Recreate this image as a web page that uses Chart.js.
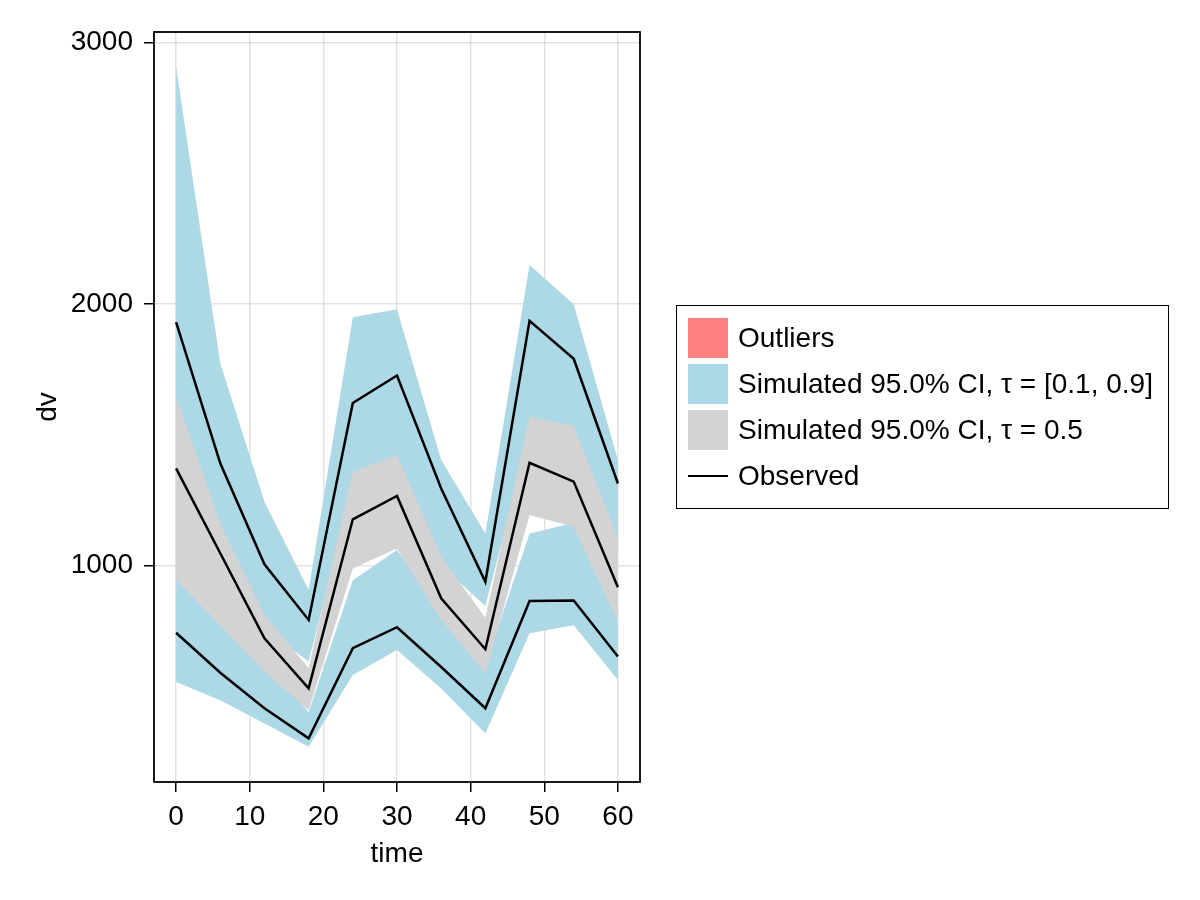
<!DOCTYPE html>
<html>
<head>
<meta charset="utf-8">
<script src="https://cdn.jsdelivr.net/npm/chart.js@4.4.0/dist/chart.umd.min.js"></script>
<style>
  body { margin: 0; background: #fff; font-family: "Liberation Sans", Arial, sans-serif; }
  #wrap { position: relative; width: 1200px; height: 900px; }
  #legend {
    position: absolute; left: 676px; top: 305px; width: 493px; height: 204px;
    border: 1.5px solid #000; box-sizing: border-box;
  }
  .item { position: absolute; left: 11px; height: 40px; width: 470px; }
  .swatch { position: absolute; left: 0; top: 0; width: 40px; height: 40px; }
  .swatch.line { height: 2px; top: 19px; background: #000; }
  .item span { position: absolute; left: 50px; top: 0; line-height: 40px; font-size: 28px; color: #000; white-space: nowrap; }
</style>
</head>
<body>
<div id="wrap">
  <canvas id="vpcChart" width="1200" height="900"></canvas>
  <div id="legend">
    <div class="item" style="top:12px"><div class="swatch" style="background:#ff8080"></div><span>Outliers</span></div>
    <div class="item" style="top:58px"><div class="swatch" style="background:#add8e6"></div><span>Simulated 95.0% CI, τ = [0.1, 0.9]</span></div>
    <div class="item" style="top:104px"><div class="swatch" style="background:#d3d3d3"></div><span>Simulated 95.0% CI, τ = 0.5</span></div>
    <div class="item" style="top:150px"><div class="swatch line"></div><span>Observed</span></div>
  </div>
</div>
<script>
// tiempos de muestreo
const times = [0, 6, 12, 18, 24, 30, 36, 42, 48, 54, 60];

// observados (cuantiles 0.9, 0.5, 0.1)
const observedHigh = [1931, 1391, 1005, 792, 1622, 1727, 1295, 938, 1936, 1791, 1314];
const observedMid = [1372, 1047, 722, 530, 1177, 1266, 875, 680, 1393, 1321, 917];
const observedLow = [743, 590, 454, 339, 684, 764, 612, 454, 864, 866, 652];

// bandas simuladas
const upperBandTop = [2908, 1774, 1244, 906, 1950, 1980, 1404, 1123, 2150, 2000, 1404];
const upperBandBottom = [1500, 1080, 760, 632, 1300, 1380, 1000, 845, 1500, 1480, 1050];
const midBandTop = [1646, 1161, 811, 607, 1359, 1423, 1034, 800, 1569, 1534, 1104];
const midBandBottom = [945, 772, 594, 447, 989, 1066, 792, 588, 1193, 1148, 785];
const lowBandTop = [1000, 820, 640, 440, 944, 1059, 830, 620, 1123, 1164, 830];
const lowBandBottom = [555, 485, 396, 307, 581, 677, 530, 358, 741, 772, 562];

const xTicks = [0, 10, 20, 30, 40, 50, 60];
const yTicks = [1000, 2000, 3000];

function pts(values) {
  return times.map((t, i) => ({ x: t, y: values[i] }));
}

function edge(values, order, fill, color) {
  return {
    data: pts(values),
    borderWidth: 0,
    pointRadius: 0,
    fill: fill,
    backgroundColor: color || 'transparent',
    order: order
  };
}

function observed(values) {
  return {
    label: 'Observed',
    data: pts(values),
    borderColor: '#000',
    borderWidth: 2.5,
    pointRadius: 0,
    fill: false,
    tension: 0,
    order: 1
  };
}

const frame = {
  id: 'frame',
  afterDraw(chart) {
    const { ctx, chartArea: a } = chart;
    ctx.save();
    ctx.strokeStyle = '#000';
    ctx.lineWidth = 1.8;
    ctx.strokeRect(a.left, a.top, a.right - a.left, a.bottom - a.top);
    ctx.restore();
  }
};

Chart.defaults.font.family = '"Liberation Sans", Arial, sans-serif';
Chart.defaults.font.size = 28;
Chart.defaults.color = '#000';

new Chart(document.getElementById('vpcChart'), {
  type: 'line',
  data: {
    datasets: [
      observed(observedHigh),
      observed(observedMid),
      observed(observedLow),
      edge(midBandTop, 2, { target: 4 }, '#d3d3d3'),
      edge(midBandBottom, 2, false),
      edge(upperBandTop, 3, { target: 6 }, '#add8e6'),
      edge(upperBandBottom, 3, false),
      edge(lowBandTop, 3, { target: 8 }, '#add8e6'),
      edge(lowBandBottom, 3, false),
      { label: 'Outliers', type: 'scatter', data: [], backgroundColor: '#ff8080', order: 0 }
    ]
  },
  options: {
    responsive: false,
    animation: false,
    devicePixelRatio: 1,
    layout: { padding: { left: 0, top: 32, right: 560, bottom: 0 } },
    plugins: { legend: { display: false }, tooltip: { enabled: false } },
    scales: {
      x: {
        type: 'linear',
        min: -3,
        max: 63,
        afterBuildTicks: (s) => { s.ticks = xTicks.map(v => ({ value: v })); },
        afterFit: (s) => { s.height = 118; },
        grid: { color: 'rgba(0,0,0,0.11)', lineWidth: 1.5, tickColor: '#000', tickLength: 10, tickWidth: 1.5 },
        border: { display: false },
        ticks: { padding: 8, maxRotation: 0, callback: (v) => String(v) },
        title: { display: true, text: 'time', padding: { top: 0, bottom: 29 } }
      },
      y: {
        min: 172,
        max: 3041,
        afterBuildTicks: (s) => { s.ticks = yTicks.map(v => ({ value: v })); },
        afterFit: (s) => { s.width = 154; },
        grid: { color: 'rgba(0,0,0,0.11)', lineWidth: 1.5, tickColor: '#000', tickLength: 10, tickWidth: 1.5 },
        border: { display: false },
        ticks: { padding: 11, callback: (v) => String(v) },
        title: { display: true, text: 'dv', padding: { top: 31, bottom: 0 } }
      }
    }
  },
  plugins: [frame]
});
</script>
</body>
</html>
